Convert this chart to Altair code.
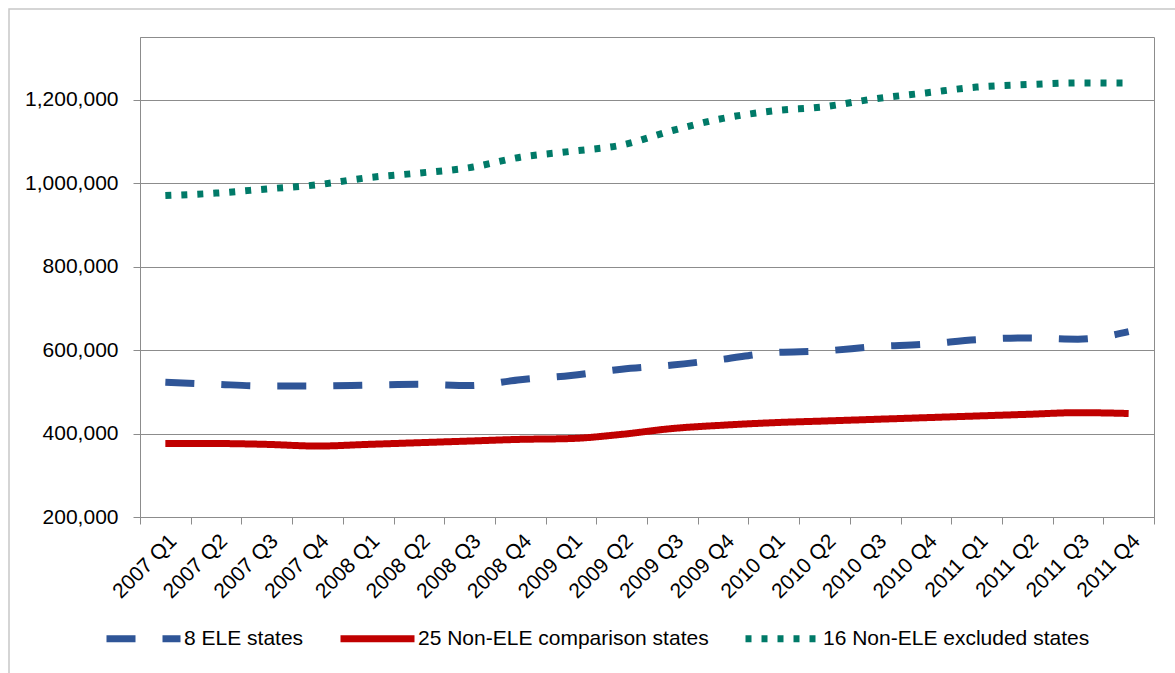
import altair as alt
import pandas as pd

# Quarterly categories along the x axis
quarters = [
    "2007 Q1", "2007 Q2", "2007 Q3", "2007 Q4",
    "2008 Q1", "2008 Q2", "2008 Q3", "2008 Q4",
    "2009 Q1", "2009 Q2", "2009 Q3", "2009 Q4",
    "2010 Q1", "2010 Q2", "2010 Q3", "2010 Q4",
    "2011 Q1", "2011 Q2", "2011 Q3", "2011 Q4",
]

series_names = [
    "8 ELE states",
    "25 Non-ELE comparison states",
    "16 Non-ELE excluded states",
]

ele_states = [523000, 518000, 514000, 514000, 516000, 518000, 515000, 529000, 539000, 554000,
              564000, 578000, 594000, 598000, 608000, 614000, 625000, 629000, 626000, 644000]
comparison_states = [376000, 376000, 374000, 370000, 374000, 378000, 382000, 386000, 388000, 398000,
                     412000, 420000, 426000, 430000, 434000, 438000, 442000, 446000, 450000, 448000]
excluded_states = [970000, 976000, 986000, 996000, 1013000, 1024000, 1037000, 1062000, 1076000, 1091000,
                   1126000, 1155000, 1173000, 1183000, 1202000, 1216000, 1230000, 1236000, 1240000, 1240000]

y_ticks = [200000, 400000, 600000, 800000, 1000000, 1200000]

colors = ["#2f5597", "#c00000", "#007a68"]
dashes = [[29, 27], [1, 0], [6, 10]]

rows = []
for name, vals in zip(series_names, [ele_states, comparison_states, excluded_states]):
    for q, v in zip(quarters, vals):
        rows.append({"quarter": q, "series": name, "value": v})
df = pd.DataFrame(rows)

FONT = "Liberation Sans"
GRID = "#8c8c8c"

legend = alt.Legend(
    title=None,
    orient="none",
    direction="horizontal",
    legendX=-37,
    legendY=561,
    symbolType="stroke",
    symbolSize=5476,
    symbolStrokeWidth=7,
    labelFont=FONT,
    labelFontSize=21,
    labelColor="#000000",
    labelOffset=0,
    labelLimit=500,
    columnPadding=22,
)

lines = alt.Chart(df).mark_line(strokeWidth=7, strokeCap="butt", interpolate="monotone").encode(
    x=alt.X(
        "quarter:O",
        sort=quarters,
        scale=alt.Scale(type="band", paddingInner=0, paddingOuter=0),
        bandPosition=0.5,
        axis=alt.Axis(
            title=None,
            labelAngle=-45,
            labelFont=FONT,
            labelFontSize=21,
            labelColor="#000000",
            labelOverlap=False,
            labelPadding=6,
            tickBand="extent",
            tickSize=7,
            tickColor=GRID,
            domainColor=GRID,
            grid=False,
        ),
    ),
    y=alt.Y(
        "value:Q",
        scale=alt.Scale(domain=[200000, 1350000], nice=False, zero=False),
        axis=alt.Axis(
            title=None,
            values=y_ticks,
            format=",.0f",
            labelFont=FONT,
            labelFontSize=21,
            labelColor="#000000",
            labelPadding=15,
            tickSize=7,
            tickColor=GRID,
            domainColor=GRID,
            grid=True,
            gridColor=GRID,
            gridWidth=1,
        ),
    ),
    color=alt.Color("series:N", scale=alt.Scale(domain=series_names, range=colors), legend=legend),
    strokeDash=alt.StrokeDash("series:N", scale=alt.Scale(domain=series_names, range=dashes), legend=legend),
    order=alt.Order("quarter:O"),
)

# light outer frame around the whole figure
frame = alt.Chart(pd.DataFrame({"k": [0]})).mark_rect(
    fill=None, stroke="#c8c8c8", strokeWidth=1.5
).encode(
    x=alt.value(-131), x2=alt.value(1200), y=alt.value(-28), y2=alt.value(800)
)

chart = alt.layer(frame, lines).properties(
    width=1014,
    height=480,
    autosize=alt.AutoSizeParams(type="none"),
    padding={"left": 140, "top": 37, "right": 21, "bottom": 156},
    background="#ffffff",
).configure_view(stroke=GRID, strokeWidth=1)

chart.save("out.html", embed_options={"renderer": "svg", "actions": False})
